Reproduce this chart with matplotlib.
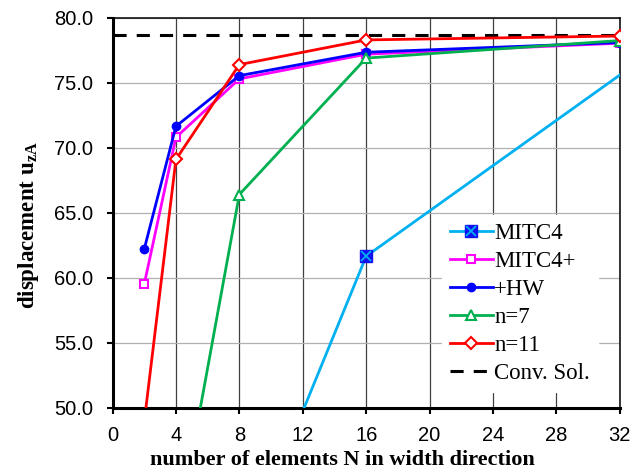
import matplotlib.pyplot as plt
from matplotlib.ticker import MultipleLocator, FormatStrFormatter

# values
n_elem = [2, 4, 8, 16, 32]
mitc4_n = [8, 16, 32]
mitc4 = [37.8, 61.65, 75.6]
mitc4_plus = [59.5, 70.8, 75.3, 77.2, 78.05]
hw = [62.2, 71.65, 75.55, 77.35, 78.1]
n7_n = [4, 8, 16, 32]
n7 = [39.7, 66.4, 76.9, 78.25]
n11 = [48.9, 69.1, 76.4, 78.3, 78.6]
conv_sol = 78.7

serif = ['Liberation Serif', 'DejaVu Serif']
sans = ['Liberation Sans', 'DejaVu Sans']
plt.rcParams['mathtext.fontset'] = 'custom'
plt.rcParams['mathtext.rm'] = 'Liberation Serif'
plt.rcParams['mathtext.bf'] = 'Liberation Serif:bold'

fig = plt.figure(figsize=(6.43, 4.69), dpi=100)
ax = fig.add_axes([0.175, 0.131, 0.789, 0.831])

lw = 2.0
# MITC4 only shows its marker at N=16
l1, = ax.plot(mitc4_n, mitc4, color='#00B0F0', lw=lw, marker='s', ms=8,
              mfc='#1010F0', mec='#1010F0', markevery=[1], zorder=3)
l1x, = ax.plot(mitc4_n, mitc4, ls='none', marker='x', ms=7, mew=1.3,
               color='#00B0F0', markevery=[1], zorder=4)
l2, = ax.plot(n_elem, mitc4_plus, color='#FF00FF', lw=lw, marker='s', ms=6,
              mfc='white', mec='#FF00FF', mew=1.5, zorder=3)
l3, = ax.plot(n_elem, hw, color='#0000FF', lw=lw, marker='o', ms=6,
              mfc='#0000FF', mec='#0000FF', zorder=3)
l4, = ax.plot(n7_n, n7, color='#00B050', lw=lw, marker='^', ms=7,
              mfc='white', mec='#00B050', mew=1.5, zorder=3)
l5, = ax.plot(n_elem, n11, color='#FF0000', lw=lw, marker='D', ms=6.5,
              mfc='white', mec='#FF0000', mew=1.5, zorder=3)
l6 = ax.axhline(conv_sol, color='black', lw=2.2, ls=(0, (4.3, 3.3)), zorder=2)

ax.set_xlim(0, 32)
ax.set_ylim(50, 80)
ax.xaxis.set_major_locator(MultipleLocator(4))
ax.yaxis.set_major_locator(MultipleLocator(5))
ax.yaxis.set_major_formatter(FormatStrFormatter('%.1f'))

ax.grid(axis='x', color='#404040', lw=0.9, zorder=0)
ax.grid(axis='y', color='#b0b0b0', lw=0.9, zorder=0)
ax.set_axisbelow(True)

for side in ['left', 'bottom']:
    ax.spines[side].set_linewidth(2.2)
for side in ['top', 'right']:
    ax.spines[side].set_linewidth(1.1)
ax.tick_params(direction='out', length=4, width=1.5, labelsize=14.5)
ax.tick_params(axis='x', pad=9)
ax.tick_params(axis='y', pad=10)
for lab in ax.get_xticklabels() + ax.get_yticklabels():
    lab.set_family(sans)

ax.set_xlabel('number of elements N in width direction', family=serif,
              fontweight='bold', fontsize=16)
ax.set_ylabel('displacement u$_{\\mathbf{zA}}$', family=serif,
              fontweight='bold', fontsize=16.5)
ax.xaxis.set_label_coords(0.454, -0.108)
ax.yaxis.set_label_coords(-0.14, 0.468)

leg = ax.legend([(l1, l1x), l2, l3, l4, l5, l6],
                ['MITC4', 'MITC4+', '+HW', 'n=7', 'n=11', 'Conv. Sol.'],
                loc='lower right', bbox_to_anchor=(0.957, 0.040),
                prop={'family': serif, 'size': 16.5}, frameon=True,
                fancybox=False, edgecolor='white', framealpha=1,
                handlelength=1.9, handletextpad=0.05, labelspacing=0.3,
                borderpad=0.35, borderaxespad=0)
leg.set_zorder(5)

plt.savefig('out.png', dpi=100)
